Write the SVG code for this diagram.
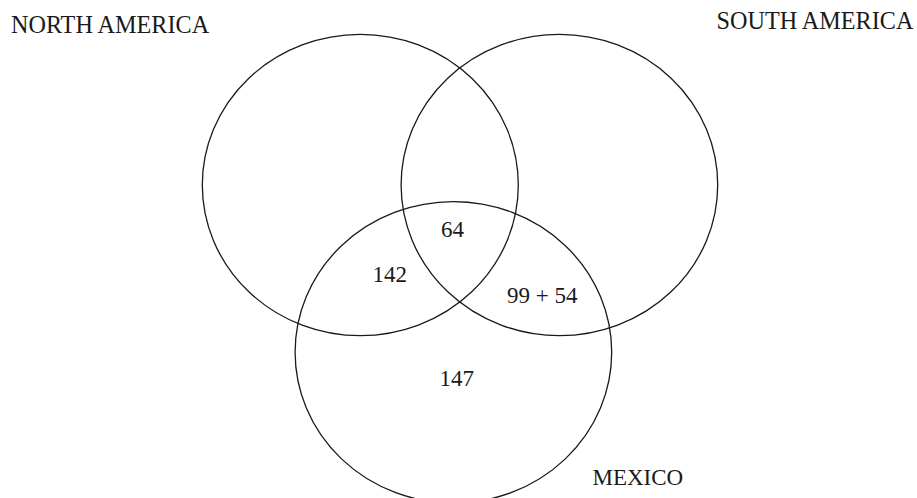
<svg xmlns="http://www.w3.org/2000/svg" width="917" height="498" viewBox="0 0 917 498">
<style>
.c{fill:none;stroke:#1a1a1a;stroke-width:1.3}
.t{font-family:"Liberation Serif","Times New Roman",serif;font-size:23px;fill:#1a1a1a}
.h{font-size:24.2px}
</style>
<rect width="917" height="498" fill="#fff"/>
<g id="north-america"><ellipse class="c" cx="360.3" cy="185" rx="158" ry="150.7"/><text class="t h" x="11" y="33.3">NORTH AMERICA</text></g>
<g id="south-america"><ellipse class="c" cx="559.4" cy="185" rx="158.3" ry="150.7"/><text class="t h" x="716.5" y="29.3">SOUTH AMERICA</text></g>
<g id="mexico"><ellipse class="c" cx="453.4" cy="352.3" rx="158.3" ry="150.7"/><text class="t" x="592.5" y="484.5">MEXICO</text></g>
<g id="labels">
<text class="t" x="441" y="236.7">64</text>
<text class="t" x="372.5" y="281.7">142</text>
<text class="t" x="507" y="302.7">99 + 54</text>
<text class="t" x="439.5" y="385.7">147</text>
</g>
<g id="connectors"/>
</svg>
